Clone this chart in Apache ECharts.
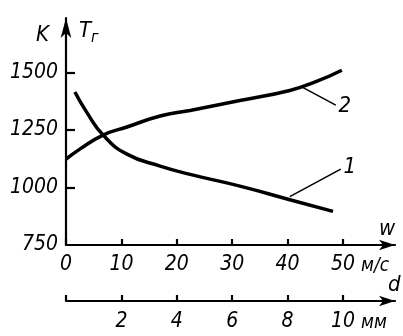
<!DOCTYPE html>
<html><head><meta charset="utf-8">
<script src="https://cdn.jsdelivr.net/npm/echarts@6/dist/echarts.min.js"></script>
<style>html,body{margin:0;padding:0;background:#fff}#c{width:403px;height:336px}</style>
</head><body><div id="c"></div>
<script>
// Curve 1: T vs w
const w1 = [1.6, 3.7, 6.7, 11, 17, 22.4, 31.4, 40.4, 48.2];
const T1 = [1415, 1329, 1228, 1145, 1093, 1057, 1006, 947, 896];
// Curve 2
const w2 = [0, 2.5, 6.7, 11, 17, 22.4, 31.4, 40.4, 45, 49.8];
const T2 = [1123, 1167, 1228, 1263, 1311, 1335, 1378, 1422, 1459, 1510];
// Tick values
const wTicks = [0, 10, 20, 30, 40, 50];
const dTicks = [0, 2, 4, 6, 8, 10];
const dLabels = [2, 4, 6, 8, 10];
const yTicks = [750, 1000, 1250, 1500];

const FONT = "'DejaVu Sans Condensed','DejaVu Sans',sans-serif";
const chart = echarts.init(document.getElementById('c'), null, {renderer: 'canvas'});
const lineStyle = {color: '#000', width: 2.2};
const lbl = {color: '#000', fontFamily: FONT, fontStyle: 'oblique', fontSize: 21, formatter: v => String(v)};

chart.setOption({
  animation: false,
  grid: {left: 66, right: 8, top: 18, bottom: 91, outerBoundsMode: 'none', containLabel: false},
  xAxis: [{
    type: 'value', min: 0, max: 59.39, position: 'bottom',
    axisLine: {show: true, onZero: false, lineStyle, symbol: ['none', 'arrow'], symbolSize: [8, 16]},
    axisTick: {show: true, inside: true, length: 6, lineStyle, customValues: wTicks},
    axisLabel: Object.assign({customValues: wTicks, margin: 9}, lbl),
    splitLine: {show: false}
  }, {
    type: 'value', min: 0, max: 11.878, position: 'bottom', offset: 56,
    axisLine: {show: true, onZero: false, lineStyle, symbol: ['none', 'arrow'], symbolSize: [8, 16]},
    axisTick: {show: true, inside: true, length: 6, lineStyle, customValues: dTicks},
    axisLabel: Object.assign({customValues: dLabels, margin: 10}, lbl),
    splitLine: {show: false}
  }],
  yAxis: [{
    type: 'value', min: 750, max: 1737,
    axisLine: {show: true, onZero: false, lineStyle, symbol: ['none', 'arrow'], symbolSize: [8, 20]},
    axisTick: {show: true, inside: true, length: 9, lineStyle, customValues: [1000, 1250, 1500]},
    axisLabel: Object.assign({customValues: yTicks, margin: 8, padding: [6, 0, 0, 0]}, lbl),
    splitLine: {show: false}
  }],
  graphic: [
    {type: 'text', left: 36, top: 24, style: {text: 'K', font: 'oblique 22px ' + FONT, fill: '#000'}},
    {type: 'text', left: 79, top: 20, style: {
      text: '{t|T}{s|г}', fill: '#000',
      rich: {t: {font: 'oblique 22px ' + FONT, fill: '#000'},
             s: {font: 'oblique 16px ' + FONT, fill: '#000', padding: [14, 0, 0, 0]}}
    }},
    {type: 'text', left: 379, top: 218, style: {text: 'w', font: 'oblique 22px ' + FONT, fill: '#000'}},
    {type: 'text', left: 361, top: 257, style: {text: 'м/с', font: 'oblique 19px ' + FONT, fill: '#000'}},
    {type: 'text', left: 388, top: 274, style: {text: 'd', font: 'oblique 22px ' + FONT, fill: '#000'}},
    {type: 'text', left: 361, top: 314, style: {text: 'мм', font: 'oblique 19px ' + FONT, fill: '#000'}}
  ],
  series: [{
    type: 'line', xAxisIndex: 0, yAxisIndex: 0, smooth: 0.5, showSymbol: false,
    lineStyle: {color: '#000', width: 3.5},
    data: w1.map((w, i) => [w, T1[i]]),
    markLine: {
      silent: true, symbol: 'none', animation: false,
      lineStyle: {color: '#000', width: 1.5, type: 'solid'},
      label: {show: true, position: 'end', formatter: '1', color: '#000', fontFamily: FONT, fontStyle: 'oblique', fontSize: 22, distance: 3},
      data: [[{coord: [40.4, 960]}, {coord: [49.6, 1080]}]]
    }
  }, {
    type: 'line', xAxisIndex: 0, yAxisIndex: 0, smooth: 0.5, showSymbol: false,
    lineStyle: {color: '#000', width: 3.5},
    data: w2.map((w, i) => [w, T2[i]]),
    markLine: {
      silent: true, symbol: 'none', animation: false,
      lineStyle: {color: '#000', width: 1.5, type: 'solid'},
      label: {show: true, position: 'end', formatter: '2', color: '#000', fontFamily: FONT, fontStyle: 'oblique', fontSize: 22, distance: 3},
      data: [[{coord: [42.8, 1434]}, {coord: [48.7, 1358]}]]
    }
  }]
});
</script></body></html>
